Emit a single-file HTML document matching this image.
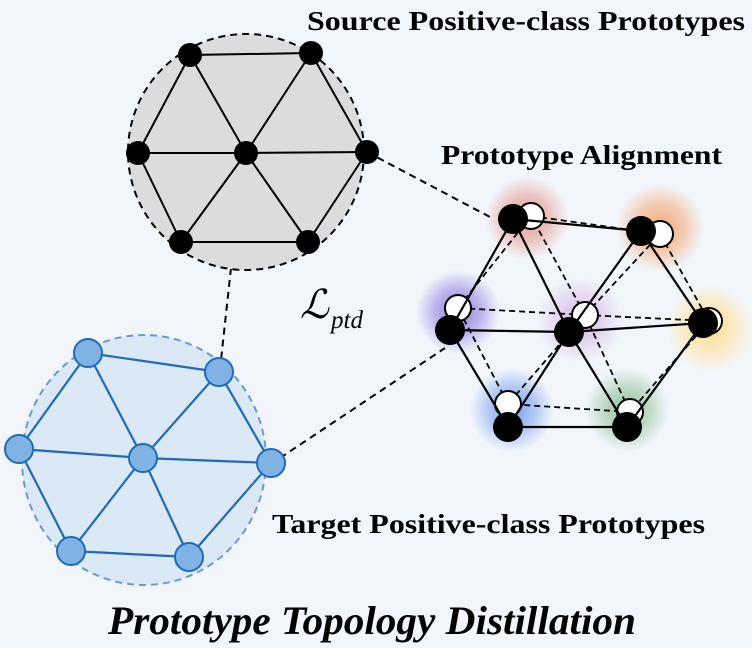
<!DOCTYPE html>
<html><head><style>
html,body{margin:0;padding:0;background:#f2f6fb;}
svg{display:block;}
text{font-family:"Liberation Serif","Times New Roman",serif;}
</style></head><body>
<svg width="752" height="648" viewBox="0 0 752 648" xmlns="http://www.w3.org/2000/svg">
<defs>
<radialGradient id="gR"><stop offset="0" stop-color="#e39a90"/><stop offset="0.55" stop-color="#e9aea6" stop-opacity="0.7"/><stop offset="1" stop-color="#e9aea6" stop-opacity="0"/></radialGradient>
<radialGradient id="gO"><stop offset="0" stop-color="#f2a878"/><stop offset="0.55" stop-color="#f4b890" stop-opacity="0.7"/><stop offset="1" stop-color="#f4b890" stop-opacity="0"/></radialGradient>
<radialGradient id="gP"><stop offset="0" stop-color="#8a78da"/><stop offset="0.55" stop-color="#a597e4" stop-opacity="0.7"/><stop offset="1" stop-color="#a597e4" stop-opacity="0"/></radialGradient>
<radialGradient id="gL"><stop offset="0" stop-color="#cfaee4"/><stop offset="0.55" stop-color="#dcc4ea" stop-opacity="0.6"/><stop offset="1" stop-color="#dcc4ea" stop-opacity="0"/></radialGradient>
<radialGradient id="gY"><stop offset="0" stop-color="#fbdc8c"/><stop offset="0.55" stop-color="#fce6b0" stop-opacity="0.75"/><stop offset="1" stop-color="#fce6b0" stop-opacity="0"/></radialGradient>
<radialGradient id="gB"><stop offset="0" stop-color="#6f9bed"/><stop offset="0.55" stop-color="#93b4f0" stop-opacity="0.7"/><stop offset="1" stop-color="#93b4f0" stop-opacity="0"/></radialGradient>
<radialGradient id="gG"><stop offset="0" stop-color="#8dbb96"/><stop offset="0.55" stop-color="#aacdb0" stop-opacity="0.7"/><stop offset="1" stop-color="#aacdb0" stop-opacity="0"/></radialGradient>
</defs>

<g stroke="#000" stroke-width="2" stroke-dasharray="7,5" fill="none">
<line x1="367" y1="152" x2="490" y2="217"/>
<line x1="231" y1="268" x2="221" y2="360"/>
<line x1="280" y1="458" x2="445" y2="348"/>
</g>

<circle cx="246" cy="152" r="118" fill="#dcdcdc" stroke="#000" stroke-width="2" stroke-dasharray="7,5"/>
<g stroke="#000" stroke-width="2">
<line x1="190" y1="55" x2="311" y2="53"/><line x1="311" y1="53" x2="367" y2="152"/>
<line x1="367" y1="152" x2="308" y2="242"/><line x1="308" y1="242" x2="181" y2="242"/>
<line x1="181" y1="242" x2="138" y2="153"/><line x1="138" y1="153" x2="190" y2="55"/>
<line x1="246" y1="153" x2="190" y2="55"/><line x1="246" y1="153" x2="311" y2="53"/>
<line x1="246" y1="153" x2="138" y2="153"/><line x1="246" y1="153" x2="367" y2="152"/>
<line x1="246" y1="153" x2="181" y2="242"/><line x1="246" y1="153" x2="308" y2="242"/>
</g>
<g fill="#000">
<circle cx="190" cy="55" r="12"/><circle cx="311" cy="53" r="12"/><circle cx="138" cy="153" r="12"/>
<circle cx="246" cy="153" r="12"/><circle cx="367" cy="152" r="12"/><circle cx="181" cy="242" r="12"/><circle cx="308" cy="242" r="12"/>
</g>

<ellipse cx="144" cy="460" rx="122" ry="125" fill="#dbe8f5" stroke="#6a9bd0" stroke-width="2" stroke-dasharray="7,5"/>
<g stroke="#1f6bb5" stroke-width="2.2">
<line x1="88" y1="353" x2="219" y2="372"/><line x1="219" y1="372" x2="271" y2="463"/>
<line x1="271" y1="463" x2="189" y2="557"/><line x1="189" y1="557" x2="71" y2="551"/>
<line x1="71" y1="551" x2="19" y2="449"/><line x1="19" y1="449" x2="88" y2="353"/>
<line x1="143" y1="458" x2="88" y2="353"/><line x1="143" y1="458" x2="219" y2="372"/>
<line x1="143" y1="458" x2="19" y2="449"/><line x1="143" y1="458" x2="271" y2="463"/>
<line x1="143" y1="458" x2="71" y2="551"/><line x1="143" y1="458" x2="189" y2="557"/>
</g>
<g fill="#80b3e4" stroke="#1f6bb5" stroke-width="2">
<circle cx="88" cy="353" r="14"/><circle cx="219" cy="372" r="14"/><circle cx="19" cy="449" r="14"/>
<circle cx="143" cy="458" r="14"/><circle cx="271" cy="463" r="14"/><circle cx="71" cy="551" r="14"/><circle cx="189" cy="557" r="14"/>
</g>

<circle cx="527" cy="218" r="42" fill="url(#gR)"/>
<circle cx="660" cy="228" r="44" fill="url(#gO)"/>
<circle cx="458" cy="312" r="42" fill="url(#gP)"/>
<circle cx="580" cy="320" r="44" fill="url(#gL)"/>
<circle cx="710" cy="328" r="44" fill="url(#gY)"/>
<circle cx="512" cy="410" r="42" fill="url(#gB)"/>
<circle cx="627" cy="410" r="42" fill="url(#gG)"/>

<g stroke="#000" stroke-width="1.8" stroke-dasharray="6,4">
<line x1="531" y1="216" x2="660" y2="234"/><line x1="660" y1="234" x2="709" y2="321"/>
<line x1="709" y1="321" x2="630" y2="412"/><line x1="630" y1="412" x2="508" y2="404"/>
<line x1="508" y1="404" x2="458" y2="308"/><line x1="458" y1="308" x2="531" y2="216"/>
<line x1="585" y1="315" x2="531" y2="216"/><line x1="585" y1="315" x2="660" y2="234"/>
<line x1="585" y1="315" x2="458" y2="308"/><line x1="585" y1="315" x2="709" y2="321"/>
<line x1="585" y1="315" x2="508" y2="404"/><line x1="585" y1="315" x2="630" y2="412"/>
</g>
<g fill="#fff" stroke="#000" stroke-width="2">
<circle cx="531" cy="216" r="13"/><circle cx="660" cy="234" r="13"/><circle cx="458" cy="308" r="13"/>
<circle cx="585" cy="315" r="13"/><circle cx="709" cy="321" r="13"/><circle cx="508" cy="404" r="13"/><circle cx="630" cy="412" r="13"/>
</g>
<g stroke="#000" stroke-width="2.2">
<line x1="513" y1="219" x2="641" y2="231"/><line x1="641" y1="231" x2="703" y2="323"/>
<line x1="703" y1="323" x2="627" y2="427"/><line x1="627" y1="427" x2="508" y2="427"/>
<line x1="508" y1="427" x2="450" y2="330"/><line x1="450" y1="330" x2="513" y2="219"/>
<line x1="569" y1="332" x2="513" y2="219"/><line x1="569" y1="332" x2="641" y2="231"/>
<line x1="569" y1="332" x2="450" y2="330"/><line x1="569" y1="332" x2="703" y2="323"/>
<line x1="569" y1="332" x2="508" y2="427"/><line x1="569" y1="332" x2="627" y2="427"/>
</g>
<g fill="#000">
<circle cx="513" cy="219" r="15"/><circle cx="641" cy="231" r="15"/><circle cx="450" cy="330" r="15"/>
<circle cx="569" cy="332" r="15"/><circle cx="703" cy="323" r="15"/><circle cx="508" cy="427" r="15"/><circle cx="627" cy="427" r="15"/>
</g>

<text x="307" y="30" font-size="27" font-weight="bold" textLength="438" lengthAdjust="spacingAndGlyphs">Source Positive-class Prototypes</text>
<text x="441" y="164" font-size="27" font-weight="bold" textLength="281" lengthAdjust="spacingAndGlyphs">Prototype Alignment</text>
<text x="272" y="533" font-size="27" font-weight="bold" textLength="433" lengthAdjust="spacingAndGlyphs">Target Positive-class Prototypes</text>
<text x="108" y="634" font-size="40" font-weight="bold" font-style="italic" textLength="528" lengthAdjust="spacingAndGlyphs">Prototype Topology Distillation</text>
<text x="300" y="318" font-size="40" font-style="italic">ℒ</text>
<text x="331" y="328" font-size="25" font-style="italic">ptd</text>
</svg>
</body></html>
